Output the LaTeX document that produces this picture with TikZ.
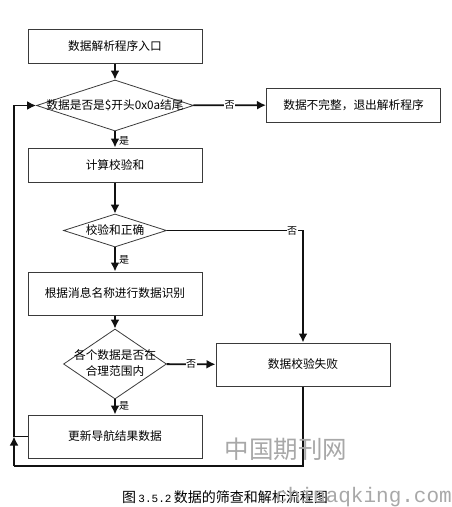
\documentclass[tikz,border=0pt]{standalone}
\usepackage{fontspec}
\setmainfont{Noto Sans CJK SC}
\newfontfamily\markfont{Liberation Mono}
\usetikzlibrary{arrows.meta,shapes.geometric}
\definecolor{flowBlack}{HTML}{111111}
\definecolor{boxGray}{HTML}{3A3A3A}
\definecolor{markGray}{HTML}{A8A8A8}
\newcommand{\flatlabel}[1]{\makebox[0pt]{#1}}

\begin{document}
\begin{tikzpicture}[x=1pt,y=-1pt,
        flowbox/.style={draw=boxGray,line width=1pt,inner sep=0pt,font=\fontsize{11.7}{14}\selectfont,
          minimum width=174pt,minimum height=34pt},
        tallbox/.style={flowbox,minimum height=43pt},
        choice/.style={draw=boxGray,line width=.8pt,diamond,inner sep=0pt,aspect=1.5,font=\fontsize{11.7}{15}\selectfont},
        flowline/.style={draw=flowBlack,line width=1.8pt,-{Latex[length=9pt,width=9pt]}},
        plainline/.style={draw=flowBlack,line width=1.8pt},
        answer/.style={font=\fontsize{10}{10}\selectfont,inner sep=.5pt},
        watermark/.style={text=markGray,inner sep=0pt}]
        \useasboundingbox (0,0) rectangle (452,507);
        \node[flowbox] (entry) at (115,46) {数据解析程序入口};
        \node[choice,minimum width=157pt,minimum height=51pt] (checkframe) at (115,105.5) {\flatlabel{数据是否是\$开头0x0a结尾}};
        \node[flowbox] (quit) at (353.5,105) {数据不完整，退出解析程序};
        \node[flowbox] (checksum) at (115,165) {计算校验和};
        \node[choice,minimum width=103pt,minimum height=33pt] (checkok) at (115,230.5) {\flatlabel{校验和正确}};
        \node[tallbox] (identify) at (115,293.5) {根据消息名称进行数据识别};
        \node[choice,minimum width=103pt,minimum height=70pt,align=center] (checkrange) at (115,364) {\flatlabel{\raisebox{-2pt}{\begin{tabular}{@{}c@{}}各个数据是否在\\[1pt]合理范围内\end{tabular}}}};
        \node[tallbox] (failed) at (303,364.5) {数据校验失败};
        \node[tallbox] (update) at (115,436.5) {更新导航结果数据};
        \coordinate (loopjoin) at (14,436.5);
        \coordinate (loopbottom) at (14,466);

        \draw[flowline] (entry) -- (checkframe);
        \draw[flowline] (checkframe) -- node[answer,fill=white] (no1) {否} (quit);
        \draw[flowline] (checkframe) -- node[answer,xshift=9pt,yshift=-1pt] (yes1) {是} (checksum);
        \draw[flowline] (checksum) -- (checkok);
        \draw[flowline] (checkok) -- node[answer,xshift=9pt] (yes2) {是} (identify);
        \draw[flowline] (identify) -- (checkrange);
        \draw[flowline] (checkrange) -- node[answer,fill=white] (no3) {否} (failed);
        \draw[flowline] (checkrange) -- node[answer,xshift=9pt,yshift=1pt] (yes3) {是} (update);
        \draw[flowline] (checkok) -| (failed) node[answer,fill=white,pos=.46] (no2) {否};
        \draw[plainline] (failed) |- (loopbottom);
        \draw[flowline] (loopbottom) -- (loopjoin);
        \draw[flowline] (update) -- (loopjoin) |- (checkframe);

        \node[font=\fontsize{14}{14}\selectfont,inner sep=0pt] (caption) at (225,497) {图\,{\markfont\fontsize{11}{11}\selectfont 3.5.2}\,数据的筛查和解析流程图};
        \node[watermark,font=\fontsize{24.5}{24.5}\selectfont] (markcn) at (286,449) {中国期刊网};
        \node[watermark,font=\markfont\fontsize{21}{21}\selectfont,anchor=east] (markurl) at (452,497) {chinaqking.com};
      \end{tikzpicture}
\end{document}
